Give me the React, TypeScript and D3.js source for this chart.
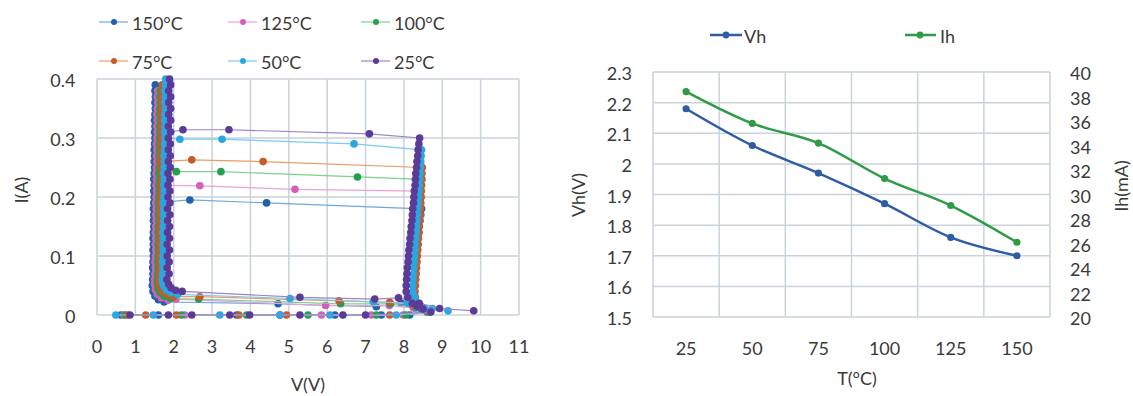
import React from "react";
import * as d3 from "d3";

const W = 1133;
const H = 396;
const FONT = "Lato, 'Open Sans', sans-serif";
const TEXT = "#3a3a3a";
const GRID = "#c9d3db";

type P = [number, number];

// ---------- Left chart: I-V curves ----------
const seriesNames = ["150°C", "125°C", "100°C", "75°C", "50°C", "25°C"];
const markerColors = ["#2160ab", "#d35fb7", "#22a04b", "#c65a28", "#2aa7e0", "#5b3a98"];
const lineColors = ["#6fa8dc", "#e9a3d8", "#7dcf93", "#ee9a63", "#7ccaf0", "#9a84c8"];
const vTicks = [0, 1, 2, 3, 4, 5, 6, 7, 8, 9, 10, 11];
const iTicks = [0, 0.1, 0.2, 0.3, 0.4];

const riseCurrents = [0.005, 0.01, 0.015, 0.02, 0.03, 0.04, 0.05, 0.06, 0.07, 0.08, 0.09, 0.1, 0.11, 0.12, 0.13, 0.14, 0.15, 0.16, 0.17, 0.18, 0.19, 0.2, 0.21, 0.22, 0.23, 0.24, 0.25, 0.26, 0.27, 0.28, 0.29, 0.3];
const holdCurrents = [0.06, 0.07, 0.08, 0.09, 0.1, 0.11, 0.12, 0.13, 0.14, 0.15, 0.16, 0.17, 0.18, 0.19, 0.2, 0.21, 0.22, 0.23, 0.24, 0.25, 0.26, 0.27, 0.28, 0.29, 0.3, 0.31, 0.32, 0.33, 0.34, 0.35, 0.36, 0.37, 0.38, 0.39, 0.4];

// leakage points (I = 0)
const leak150 = [0.62, 1.6, 3.64, 4.77, 6.2, 7.41, 8.15];
const leak125 = [0.7, 2.29, 5.85, 7.15, 7.98];
const leak100 = [0.73, 2.2, 3.9, 5.5, 7.28, 8.05];
const leak75 = [0.8, 1.27, 2.07, 3.7, 4.94, 7.63];
const leak50 = [0.49, 1.47, 3.2, 4.77, 6.07, 7.8];
const leak25 = [0.86, 1.86, 2.47, 3.46, 3.98, 5.29, 6.41, 7.0];

// right (trigger) branch voltages at riseCurrents
const rise150 = [8.6, 8.45, 8.36, 8.3, 8.26, 8.25, 8.26, 8.27, 8.28, 8.3, 8.31, 8.33, 8.34, 8.36, 8.37, 8.39, 8.4, 8.42, 8.44, 8.46];
const rise125 = [8.62, 8.48, 8.38, 8.32, 8.27, 8.26, 8.27, 8.28, 8.29, 8.31, 8.32, 8.33, 8.35, 8.36, 8.37, 8.38, 8.39, 8.4, 8.41, 8.42, 8.43, 8.44, 8.45];
const rise100 = [8.64, 8.5, 8.4, 8.33, 8.28, 8.27, 8.28, 8.29, 8.3, 8.31, 8.32, 8.33, 8.34, 8.35, 8.36, 8.37, 8.38, 8.39, 8.4, 8.41, 8.42, 8.43, 8.44, 8.45, 8.46];
const rise75 = [8.66, 8.52, 8.42, 8.35, 8.3, 8.29, 8.3, 8.31, 8.32, 8.33, 8.34, 8.35, 8.36, 8.37, 8.38, 8.39, 8.4, 8.41, 8.42, 8.43, 8.44, 8.45, 8.45, 8.46, 8.47, 8.47, 8.48];
const rise50 = [8.68, 8.55, 8.44, 8.36, 8.28, 8.24, 8.23, 8.24, 8.25, 8.26, 8.27, 8.28, 8.29, 8.3, 8.31, 8.32, 8.33, 8.34, 8.35, 8.36, 8.37, 8.38, 8.39, 8.4, 8.41, 8.42, 8.43, 8.44, 8.45, 8.46];
const rise25 = [8.7, 8.5, 8.35, 8.22, 8.1, 8.06, 8.06, 8.07, 8.08, 8.09, 8.11, 8.12, 8.13, 8.15, 8.16, 8.18, 8.19, 8.21, 8.22, 8.23, 8.25, 8.26, 8.27, 8.29, 8.3, 8.31, 8.33, 8.34, 8.36, 8.37, 8.39, 8.41];

// snapback transition points [V, I]
const snap150: P[] = [[4.42, 0.19], [2.42, 0.195]];
const snap125: P[] = [[5.16, 0.213], [2.68, 0.219]];
const snap100: P[] = [[6.79, 0.234], [3.23, 0.243], [2.07, 0.243]];
const snap75: P[] = [[4.33, 0.26], [2.47, 0.263]];
const snap50: P[] = [[6.7, 0.29], [3.26, 0.298], [2.16, 0.298]];
const snap25: P[] = [[7.1, 0.307], [3.44, 0.314], [2.24, 0.314]];

// holding branch voltages at holdCurrents
const hold150 = [1.45, 1.46, 1.45, 1.46, 1.47, 1.46, 1.47, 1.46, 1.47, 1.48, 1.47, 1.48, 1.47, 1.48, 1.49, 1.48, 1.49, 1.48, 1.49, 1.5, 1.49, 1.5, 1.49, 1.5, 1.51, 1.5, 1.51, 1.5, 1.51, 1.52, 1.51, 1.52, 1.51, 1.52];
const hold125 = [1.5, 1.51, 1.52, 1.51, 1.52, 1.53, 1.52, 1.53, 1.52, 1.53, 1.54, 1.53, 1.54, 1.53, 1.54, 1.55, 1.54, 1.55, 1.54, 1.55, 1.56, 1.55, 1.56, 1.55, 1.56, 1.57, 1.56, 1.57, 1.56, 1.57, 1.58, 1.57, 1.58];
const hold100 = [1.57, 1.58, 1.59, 1.58, 1.59, 1.6, 1.59, 1.6, 1.59, 1.6, 1.61, 1.6, 1.61, 1.6, 1.61, 1.62, 1.61, 1.62, 1.61, 1.62, 1.63, 1.62, 1.63, 1.62, 1.63, 1.64, 1.63, 1.64, 1.63, 1.64, 1.65, 1.64, 1.65];
const hold75 = [1.62, 1.63, 1.64, 1.63, 1.64, 1.65, 1.64, 1.65, 1.64, 1.65, 1.66, 1.65, 1.66, 1.65, 1.66, 1.67, 1.66, 1.68, 1.69, 1.67, 1.66, 1.67, 1.68, 1.67, 1.68, 1.69, 1.68, 1.69, 1.68, 1.69, 1.7, 1.69, 1.7, 1.7];
const hold50 = [1.7, 1.71, 1.72, 1.71, 1.72, 1.73, 1.72, 1.73, 1.72, 1.73, 1.74, 1.73, 1.74, 1.73, 1.74, 1.75, 1.74, 1.75, 1.74, 1.75, 1.76, 1.75, 1.76, 1.76, 1.77, 1.76, 1.77, 1.76, 1.77, 1.78, 1.77, 1.78, 1.77, 1.78, 1.79];
const hold25 = [1.82, 1.88, 1.83, 1.88, 1.83, 1.89, 1.83, 1.89, 1.84, 1.89, 1.84, 1.9, 1.84, 1.9, 1.85, 1.9, 1.85, 1.9, 1.85, 1.91, 1.86, 1.91, 1.86, 1.91, 1.86, 1.92, 1.86, 1.92, 1.87, 1.92, 1.87, 1.92, 1.87, 1.92, 1.89];

// bottom hook of holding branch [V, I], bottom to top
const hook150: P[] = [[1.75, 0.022], [1.6, 0.026], [1.51, 0.032], [1.46, 0.04], [1.44, 0.05]];
const hook125: P[] = [[1.85, 0.025], [1.68, 0.029], [1.57, 0.035], [1.52, 0.043], [1.5, 0.052]];
const hook100: P[] = [[1.92, 0.028], [1.75, 0.032], [1.64, 0.038], [1.59, 0.045], [1.57, 0.053]];
const hook75: P[] = [[2.0, 0.031], [1.82, 0.035], [1.71, 0.04], [1.65, 0.047], [1.62, 0.054]];
const hook50: P[] = [[2.1, 0.035], [1.92, 0.038], [1.8, 0.043], [1.74, 0.049], [1.71, 0.055]];
const hook25: P[] = [[2.22, 0.04], [2.05, 0.042], [1.93, 0.046], [1.87, 0.052]];

// low-current tail points [V, I]
const tail150: P[] = [[4.72, 0.019], [7.28, 0.014], [7.93, 0.02], [8.3, 0.012]];
const tail125: P[] = [[2.06, 0.027], [5.96, 0.016], [7.62, 0.016], [8.25, 0.012]];
const tail100: P[] = [[2.65, 0.027], [6.35, 0.019], [7.65, 0.019], [8.3, 0.014]];
const tail75: P[] = [[2.68, 0.031], [6.31, 0.024], [7.63, 0.0215], [8.2, 0.018]];
const tail50: P[] = [[5.03, 0.028], [7.2, 0.0225], [8.09, 0.02], [8.74, 0.011], [9.15, 0.007]];
const tail25: P[] = [[5.29, 0.03], [7.24, 0.027], [7.86, 0.029], [8.4, 0.02], [8.93, 0.011], [9.82, 0.007]];

function buildSeries(leak: number[], riseV: number[], snap: P[], holdV: number[], hook: P[], tail: P[]): P[] {
  const rise: P[] = riseV.map((v, k) => [v, riseCurrents[k]]);
  const hold: P[] = holdV.map((v, k) => [v, holdCurrents[k]]);
  const snapLevel = snap[snap.length - 1][1];
  const upper = hold.filter((p) => p[1] >= snapLevel - 0.005);
  const lower = hold.filter((p) => p[1] < snapLevel - 0.005).reverse();
  return [
    ...leak.map((v) => [v, 0] as P),
    ...rise,
    ...snap,
    ...upper,
    ...lower,
    ...hook.slice().reverse(),
    ...tail,
  ];
}

const ivSeries: P[][] = [
  buildSeries(leak150, rise150, snap150, hold150, hook150, tail150),
  buildSeries(leak125, rise125, snap125, hold125, hook125, tail125),
  buildSeries(leak100, rise100, snap100, hold100, hook100, tail100),
  buildSeries(leak75, rise75, snap75, hold75, hook75, tail75),
  buildSeries(leak50, rise50, snap50, hold50, hook50, tail50),
  buildSeries(leak25, rise25, snap25, hold25, hook25, tail25),
];

// ---------- Right chart: Vh / Ih vs T ----------
const tempCategories = ["25", "50", "75", "100", "125", "150"];
const vhValues = [2.18, 2.06, 1.97, 1.87, 1.76, 1.7];
const ihValues = [38.4, 35.8, 34.2, 31.3, 29.1, 26.1];
const vhTicks = [1.5, 1.6, 1.7, 1.8, 1.9, 2, 2.1, 2.2, 2.3];
const ihTicks = [20, 22, 24, 26, 28, 30, 32, 34, 36, 38, 40];
const VH_COLOR = "#2e5da6";
const IH_COLOR = "#2e9b47";

export default function App() {
  // left scales
  const xL = d3.scaleLinear().domain([0, 11]).range([97, 519]);
  const yL = d3.scaleLinear().domain([0, 0.4]).range([315, 79]);
  const lineL = d3
    .line<P>()
    .x((d) => xL(d[0]))
    .y((d) => yL(d[1]));

  // right scales
  const xR = d3.scaleBand<string>().domain(tempCategories).range([653, 1050]).padding(0);
  const yR1 = d3.scaleLinear().domain([1.5, 2.3]).range([317, 72]);
  const yR2 = d3.scaleLinear().domain([20, 40]).range([317, 72]);
  const cx = (c: string) => (xR(c) as number) + xR.bandwidth() / 2;
  const vhLine = d3
    .line<number>()
    .x((_, k) => cx(tempCategories[k]))
    .y((d) => yR1(d))
    .curve(d3.curveMonotoneX);
  const ihLine = d3
    .line<number>()
    .x((_, k) => cx(tempCategories[k]))
    .y((d) => yR2(d))
    .curve(d3.curveMonotoneX);

  const legendPos = [
    { x: 99, y: 22 },
    { x: 228, y: 22 },
    { x: 361, y: 22 },
    { x: 99, y: 61 },
    { x: 228, y: 61 },
    { x: 361, y: 61 },
  ];

  const bandEdges = [...tempCategories.map((c) => xR(c) as number), 1050];

  return (
    <div style={{ position: "absolute", left: 0, top: 0 }}>
      <svg width={W} height={H} style={{ display: "block", background: "#fff" }} fontFamily={FONT}>
        {/* ===== Left chart ===== */}
        <g>
          {vTicks.map((v) => (
            <line key={"gv" + v} x1={xL(v)} x2={xL(v)} y1={yL(0.4)} y2={yL(0)} stroke={GRID} strokeWidth={1.5} />
          ))}
          {iTicks.map((t) => (
            <line key={"gi" + t} x1={xL(0)} x2={xL(11)} y1={yL(t)} y2={yL(t)} stroke={GRID} strokeWidth={1.5} />
          ))}
          {iTicks.map((t) => (
            <text key={"ti" + t} x={75.5} y={yL(t) + 1} textAnchor="end" dominantBaseline="central" fontSize={18} fill={TEXT}>
              {String(t)}
            </text>
          ))}
          {vTicks.map((v) => (
            <text key={"tv" + v} x={xL(v)} y={345.5} textAnchor="middle" dominantBaseline="central" fontSize={18} fill={TEXT}>
              {String(v)}
            </text>
          ))}
          <text x={308} y={384} textAnchor="middle" dominantBaseline="central" fontSize={18} fill={TEXT}>
            V(V)
          </text>
          <text
            transform={`translate(21,190) rotate(-90)`}
            textAnchor="middle"
            dominantBaseline="central"
            fontSize={18}
            fill={TEXT}
          >
            I(A)
          </text>

          {ivSeries.map((s, k) => (
            <g key={"s" + k}>
              <path d={lineL(s) || ""} fill="none" stroke={lineColors[k]} strokeWidth={1.2} />
              {s.map((p, j) => (
                <circle key={j} cx={xL(p[0])} cy={yL(p[1])} r={3.8} fill={markerColors[k]} />
              ))}
            </g>
          ))}

          {seriesNames.map((name, k) => {
            const pos = legendPos[k];
            return (
              <g key={"lg" + k}>
                <line x1={pos.x} x2={pos.x + 29} y1={pos.y} y2={pos.y} stroke={lineColors[k]} strokeWidth={1.2} />
                <circle cx={pos.x + 15} cy={pos.y} r={3} fill={markerColors[k]} />
                <text x={pos.x + 33} y={pos.y + 1} dominantBaseline="central" fontSize={18} fill={TEXT}>
                  {name}
                </text>
              </g>
            );
          })}
        </g>

        {/* ===== Right chart ===== */}
        <g>
          {vhTicks.map((t) => (
            <line key={"gh" + t} x1={653} x2={1050} y1={yR1(t)} y2={yR1(t)} stroke={GRID} strokeWidth={1.5} />
          ))}
          {bandEdges.map((x, k) => (
            <line key={"gb" + k} x1={x} x2={x} y1={72} y2={317} stroke={GRID} strokeWidth={1.5} />
          ))}
          {vhTicks.map((t) => (
            <text key={"tl" + t} x={632} y={yR1(t) + 1} textAnchor="end" dominantBaseline="central" fontSize={18} fill={TEXT}>
              {String(t)}
            </text>
          ))}
          {ihTicks.map((t) => (
            <text key={"tr" + t} x={1070} y={yR2(t) + 1} textAnchor="start" dominantBaseline="central" fontSize={18} fill={TEXT}>
              {String(t)}
            </text>
          ))}
          {tempCategories.map((c) => (
            <text key={"tc" + c} x={cx(c)} y={348} textAnchor="middle" dominantBaseline="central" fontSize={18} fill={TEXT}>
              {c}
            </text>
          ))}
          <text x={857} y={378} textAnchor="middle" dominantBaseline="central" fontSize={18} fill={TEXT}>
            T(°C)
          </text>
          <text transform={`translate(578,195) rotate(-90)`} textAnchor="middle" dominantBaseline="central" fontSize={18} fill={TEXT}>
            Vh(V)
          </text>
          <text transform={`translate(1121,186) rotate(-90)`} textAnchor="middle" dominantBaseline="central" fontSize={18} fill={TEXT}>
            Ih(mA)
          </text>

          <path d={vhLine(vhValues) || ""} fill="none" stroke={VH_COLOR} strokeWidth={2.5} />
          {vhValues.map((v, k) => (
            <circle key={"vh" + k} cx={cx(tempCategories[k])} cy={yR1(v)} r={3.6} fill={VH_COLOR} />
          ))}
          <path d={ihLine(ihValues) || ""} fill="none" stroke={IH_COLOR} strokeWidth={2.5} />
          {ihValues.map((v, k) => (
            <circle key={"ih" + k} cx={cx(tempCategories[k])} cy={yR2(v)} r={3.6} fill={IH_COLOR} />
          ))}

          <line x1={710} x2={742} y1={35} y2={35} stroke={VH_COLOR} strokeWidth={2.5} />
          <circle cx={726} cy={35} r={3.4} fill={VH_COLOR} />
          <text x={744} y={36} dominantBaseline="central" fontSize={18} fill={TEXT}>
            Vh
          </text>
          <line x1={905} x2={936} y1={35} y2={35} stroke={IH_COLOR} strokeWidth={2.5} />
          <circle cx={920} cy={35} r={3.4} fill={IH_COLOR} />
          <text x={940} y={36} dominantBaseline="central" fontSize={18} fill={TEXT}>
            Ih
          </text>
        </g>
      </svg>
    </div>
  );
}
